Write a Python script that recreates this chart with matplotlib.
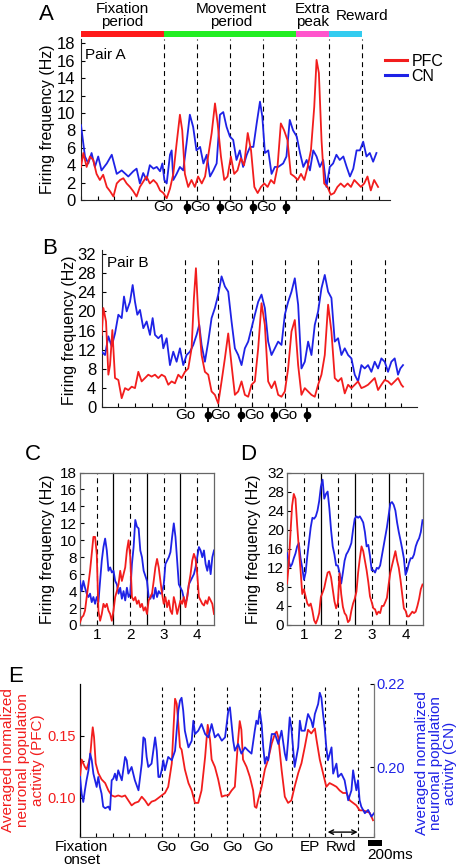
import numpy as np
import matplotlib
matplotlib.use("Agg")
import matplotlib.pyplot as plt
import matplotlib.transforms as mtransforms
from matplotlib.patches import Rectangle

plt.rcParams['font.family'] = ['Liberation Sans', 'DejaVu Sans']
plt.rcParams['font.size'] = 11

RED = '#f21d1d'
BLUE = '#1e22e6'
DASH = (0, (4.5, 3.5))

# ---------------- data ----------------
# time axis of A, B, E in units of one Go-to-Go interval
event_lines = [2.5, 3.5, 4.5, 5.5, 6.5, 7.5, 8.5]
go_first = 2.5
go_next = [3.5, 4.5, 5.5]
pins = [3.5, 4.5, 5.5, 6.5]

period_names = ['Fixation\nperiod', 'Movement\nperiod', 'Extra\npeak', 'Reward']
period_centers = [1.24, 4.53, 7.0, 8.49]
period_edges = [0, 2.5, 6.5, 7.5, 8.5]
period_colors = ['#ff1a1a', '#22ee22', '#ff55cc', '#33ccf0']

# Panel A (Pair A)
a_red_t = [0.00, 0.07, 0.17, 0.27, 0.37, 0.47, 0.57, 0.67, 0.78, 0.88,
           0.98, 1.08, 1.18, 1.28, 1.38, 1.48, 1.58, 1.68, 1.78, 1.88,
           1.98, 2.08, 2.19, 2.29, 2.39, 2.49, 2.59, 2.69, 2.79, 2.89,
           2.99, 3.06, 3.14, 3.24, 3.34, 3.44, 3.54, 3.65, 3.75, 3.85,
           3.95, 4.05, 4.13, 4.23, 4.33, 4.43, 4.53, 4.63, 4.73, 4.83,
           4.93, 5.04, 5.14, 5.24, 5.34, 5.44, 5.54, 5.64, 5.74, 5.84,
           5.94, 6.04, 6.14, 6.24, 6.34, 6.45, 6.55, 6.65, 6.75, 6.85,
           6.95, 7.05, 7.12, 7.19, 7.27, 7.35, 7.45, 7.55, 7.65, 7.75,
           7.85, 7.96, 8.06, 8.16, 8.26, 8.36, 8.46, 8.56, 8.66, 8.76,
           8.86, 8.98]
a_red = [3.8, 5.4, 3.8, 5.0, 4.6, 3.0, 2.3, 2.9, 1.5, 1.0,
         0.4, 1.9, 2.3, 2.5, 1.9, 1.5, 1.0, 0.4, 1.5, 2.1,
         2.7, 1.9, 2.3, 1.9, 1.1, 0.8, 0.2, 1.3, 3.0, 6.5,
         9.8, 8.0, 3.0, 1.5, 2.3, 1.5, 2.7, 1.9, 2.7, 5.2,
         7.7, 11.1, 8.8, 5.0, 2.3, 2.7, 5.0, 3.0, 3.4, 4.8,
         4.0, 7.7, 5.7, 1.5, 0.8, 1.5, 1.9, 1.5, 2.3, 1.9,
         3.8, 8.8, 8.0, 6.9, 3.0, 2.7, 2.3, 3.0, 2.3, 3.8,
         5.7, 10.7, 16.1, 14.6, 6.9, 1.9, 1.5, 0.6, 0.8, 1.5,
         1.9, 1.5, 1.9, 1.5, 2.3, 1.9, 1.5, 1.9, 2.7, 1.1,
         2.3, 1.5]
a_blue_t = [0.00, 0.12, 0.22, 0.32, 0.42, 0.52, 0.62, 0.78, 0.93, 1.08,
            1.23, 1.43, 1.58, 1.68, 1.78, 1.88, 1.98, 2.08, 2.19, 2.29,
            2.39, 2.46, 2.52, 2.59, 2.69, 2.74, 2.79, 2.89, 2.99, 3.09,
            3.19, 3.29, 3.39, 3.49, 3.60, 3.70, 3.80, 3.90, 4.00, 4.10,
            4.20, 4.30, 4.40, 4.50, 4.60, 4.70, 4.80, 4.90, 5.01, 5.11,
            5.21, 5.31, 5.41, 5.48, 5.56, 5.66, 5.76, 5.86, 5.96, 6.11,
            6.21, 6.31, 6.41, 6.52, 6.62, 6.72, 6.82, 6.92, 7.02, 7.12,
            7.22, 7.32, 7.42, 7.52, 7.62, 7.72, 7.82, 7.93, 8.03, 8.13,
            8.23, 8.33, 8.43, 8.53, 8.63, 8.73, 8.83, 8.93]
a_blue = [8.6, 5.0, 4.2, 5.4, 3.8, 5.0, 3.4, 4.2, 5.2, 3.0,
          3.4, 2.7, 3.3, 3.6, 1.9, 3.1, 2.3, 4.0, 3.6, 3.8,
          3.3, 4.2, 2.3, 1.9, 5.2, 5.7, 2.3, 3.0, 3.8, 3.4,
          6.5, 9.8, 8.4, 5.7, 6.1, 4.2, 5.2, 2.7, 3.4, 4.2,
          9.8, 10.1, 8.4, 7.3, 6.9, 4.6, 5.7, 3.8, 5.2, 6.1,
          6.1, 8.8, 11.3, 9.6, 5.4, 5.7, 3.0, 3.8, 3.8, 4.2,
          5.0, 9.2, 8.0, 7.3, 5.4, 3.8, 4.6, 3.4, 5.7, 5.0,
          3.8, 4.6, 1.5, 3.8, 4.2, 5.2, 4.6, 5.0, 3.8, 2.7,
          3.6, 5.7, 5.7, 6.7, 5.0, 5.4, 4.4, 5.4]

# Panel B (Pair B)
b_red_t = [0, 0.05, 0.13, 0.2, 0.25, 0.32, 0.4, 0.5, 0.6, 0.7,
           0.8, 0.9, 1.0, 1.1, 1.2, 1.3, 1.4, 1.5, 1.6, 1.7,
           1.8, 1.9, 2.0, 2.1, 2.2, 2.3, 2.4, 2.5, 2.6, 2.7,
           2.77, 2.83, 2.9, 3.0, 3.1, 3.2, 3.3, 3.4, 3.5, 3.6,
           3.7, 3.8, 3.9, 4.0, 4.1, 4.2, 4.3, 4.4, 4.5, 4.6,
           4.7, 4.8, 4.9, 5.0, 5.1, 5.2, 5.3, 5.4, 5.5, 5.6,
           5.7, 5.8, 5.9, 6.0, 6.1, 6.2, 6.3, 6.4, 6.5, 6.6,
           6.7, 6.8, 6.9, 7.0, 7.1, 7.2, 7.3, 7.4, 7.5, 7.6,
           7.7, 7.8, 7.9, 8.0, 8.1, 8.2, 8.3, 8.4, 8.5, 8.6,
           8.7, 8.8, 8.9, 9.0, 9.05]
b_red = [15.1, 20.7, 17.9, 6.8, 8.8, 16.1, 6.1, 5.7, 1.9, 4.0,
         3.6, 4.3, 4.0, 7.4, 5.4, 6.1, 6.8, 6.4, 6.8, 6.1,
         6.8, 6.4, 4.7, 5.4, 5.0, 6.8, 6.1, 7.4, 8.1, 12.3,
         22.8, 29.0, 19.3, 10.9, 7.4, 6.8, 3.3, 2.6, 0.8, 5.4,
         10.2, 15.4, 8.8, 2.6, 3.3, 5.4, 2.6, 2.2, 4.7, 5.4,
         12.3, 21.7, 17.2, 5.4, 4.0, 5.4, 2.6, 2.2, 3.3, 8.1,
         15.8, 18.2, 8.8, 2.6, 4.0, 3.3, 2.6, 2.2, 4.7, 6.8,
         10.9, 21.4, 15.8, 6.1, 5.4, 6.1, 2.9, 4.7, 4.0, 4.7,
         5.4, 4.0, 4.3, 4.7, 5.4, 6.1, 3.6, 4.7, 5.7, 5.4,
         4.7, 5.4, 6.1, 4.7, 4.3]
b_blue_t = [0, 0.1, 0.2, 0.3, 0.4, 0.5, 0.6, 0.67, 0.75, 0.85,
            0.93, 1.0, 1.07, 1.15, 1.25, 1.35, 1.45, 1.53, 1.6, 1.7,
            1.8, 1.85, 1.95, 2.05, 2.15, 2.25, 2.35, 2.45, 2.55, 2.65,
            2.75, 2.85, 2.93, 3.0, 3.1, 3.2, 3.3, 3.4, 3.5, 3.6,
            3.7, 3.8, 3.9, 4.0, 4.1, 4.2, 4.3, 4.4, 4.5, 4.6,
            4.7, 4.8, 4.9, 5.0, 5.1, 5.2, 5.3, 5.4, 5.5, 5.6,
            5.7, 5.8, 5.9, 6.0, 6.1, 6.2, 6.3, 6.4, 6.5, 6.6,
            6.7, 6.8, 6.9, 7.0, 7.1, 7.2, 7.3, 7.4, 7.5, 7.6,
            7.7, 7.8, 7.9, 8.0, 8.1, 8.2, 8.3, 8.4, 8.5, 8.6,
            8.7, 8.8, 8.9, 8.97, 9.05]
b_blue = [11.6, 10.9, 14.8, 12.7, 15.4, 19.3, 18.6, 23.1, 20.0, 22.0,
          25.5, 22.0, 19.3, 20.3, 16.5, 17.9, 15.1, 18.6, 15.1, 14.4,
          15.1, 12.3, 14.4, 8.8, 11.6, 9.5, 12.3, 8.8, 10.9, 11.6,
          13.0, 15.1, 17.2, 13.0, 9.5, 13.7, 18.6, 20.7, 23.5, 27.3,
          25.2, 24.1, 17.9, 12.3, 10.9, 8.8, 12.3, 13.7, 16.5, 19.3,
          22.0, 23.5, 20.7, 13.7, 10.9, 12.3, 13.7, 13.0, 19.3, 22.0,
          24.1, 26.9, 21.4, 8.1, 9.5, 13.7, 10.9, 17.2, 20.0, 24.8,
          27.6, 24.1, 22.8, 13.7, 14.4, 10.9, 12.3, 10.9, 10.2, 6.8,
          5.4, 8.8, 8.1, 8.8, 7.4, 9.5, 8.1, 10.2, 9.5, 7.4,
          9.5, 10.2, 6.8, 8.1, 8.8]

# Panels C and D: four trials, 0.05 steps from 0.5 to 4.5
trial_t = np.round(np.arange(0.5, 4.5001, 0.05), 2)
c_red = [0.3, 0.9, 1.1, 1.7, 3.3, 4.8, 6.4, 8.4, 10.4, 10.4,
         8.4, 1.7, 0.5, 1.3, 2.5, 2.1, 2.5, 1.7, 1.3, 0.5,
         1.7, 3.3, 4.0, 4.8, 6.4, 5.2, 6.0, 6.8, 8.8, 10.0,
         8.0, 3.3, 2.9, 3.3, 2.5, 2.9, 2.1, 2.5, 1.7, 2.1,
         1.3, 2.9, 3.3, 3.7, 5.2, 6.8, 7.8, 6.8, 5.2, 3.7,
         2.5, 3.3, 2.1, 2.9, 1.7, 1.3, 3.3, 2.5, 1.3, 2.1,
         2.9, 2.5, 3.3, 2.1, 3.3, 4.8, 6.0, 7.6, 8.4, 7.8,
         6.0, 3.3, 2.9, 2.5, 2.3, 2.9, 2.5, 3.3, 2.9, 2.5,
         1.3]
c_blue = [5.2, 4.0, 5.2, 4.4, 3.7, 3.3, 3.7, 2.7, 3.3, 2.5,
          3.3, 2.7, 5.2, 7.6, 9.2, 10.2, 8.8, 6.4, 6.8, 6.2,
          6.4, 5.2, 4.8, 3.7, 4.4, 3.1, 4.0, 2.9, 4.4, 3.3,
          3.7, 7.2, 9.2, 12.4, 11.6, 11.4, 8.8, 8.0, 6.4, 5.8,
          5.2, 3.3, 3.1, 3.7, 3.1, 4.4, 3.3, 4.0, 3.7, 3.8,
          4.8, 7.2, 7.6, 8.0, 8.6, 10.4, 12.0, 10.4, 7.6, 4.8,
          4.4, 4.0, 3.1, 2.5, 3.3, 4.8, 5.2, 5.6, 6.0, 6.8,
          8.0, 9.2, 8.8, 8.0, 8.8, 7.2, 6.4, 7.6, 6.0, 8.0,
          8.8]
d_red = [8.7, 12.5, 19.0, 25.0, 27.5, 26.5, 21.0, 16.0, 11.5, 6.5,
         7.5, 6.0, 4.5, 4.0, 4.5, 3.0, 1.0, 0.3, 1.2, 2.5,
         5.9, 6.8, 7.8, 9.5, 11.0, 11.2, 10.0, 7.5, 5.0, 3.5,
         4.5, 10.8, 6.5, 3.8, 2.5, 2.0, 0.6, 1.0, 3.0, 4.5,
         5.5, 7.0, 11.0, 14.0, 16.5, 15.5, 13.5, 11.5, 9.0, 6.0,
         4.8, 3.5, 3.3, 2.2, 2.8, 2.5, 4.0, 4.0, 4.8, 5.7,
         8.5, 11.0, 12.5, 14.0, 15.5, 13.5, 12.0, 9.5, 6.5, 3.5,
         3.0, 1.8, 1.8, 2.3, 2.8, 2.5, 2.8, 4.0, 5.5, 7.5,
         8.5]
d_blue = [15.1, 13.5, 12.2, 12.8, 14.0, 15.0, 16.5, 17.2, 14.0, 12.0,
          9.5, 11.0, 14.5, 17.5, 20.5, 22.5, 22.3, 22.8, 24.0, 26.0,
          29.0, 30.5, 26.5, 27.5, 28.0, 24.5, 20.0, 16.5, 14.8, 12.5,
          12.5, 11.0, 8.7, 11.0, 13.5, 14.8, 15.4, 16.2, 17.2, 20.0,
          22.3, 22.8, 22.5, 22.8, 22.2, 21.5, 19.5, 16.5, 16.8, 14.5,
          11.5, 11.5, 11.0, 12.0, 11.8, 12.5, 14.5, 16.5, 18.5, 20.5,
          23.0, 25.5, 25.8, 25.2, 24.0, 21.5, 19.5, 17.8, 16.0, 14.0,
          10.5, 11.5, 13.0, 14.0, 14.0, 14.8, 16.5, 17.5, 18.2, 19.5,
          22.0]

# Panel E: population activity
e_red_t = [0, 0.05, 0.10, 0.15, 0.20, 0.26, 0.31, 0.36, 0.39, 0.43,
           0.48, 0.56, 0.66, 0.77, 0.87, 0.97, 1.07, 1.17, 1.28, 1.38,
           1.48, 1.58, 1.68, 1.79, 1.89, 1.99, 2.09, 2.19, 2.30, 2.40,
           2.50, 2.60, 2.70, 2.81, 2.86, 2.91, 2.96, 3.01, 3.06, 3.11,
           3.21, 3.32, 3.42, 3.52, 3.62, 3.72, 3.83, 3.91, 3.98, 4.03,
           4.13, 4.23, 4.34, 4.44, 4.54, 4.64, 4.74,
           4.84, 4.89, 4.94, 4.99, 5.10, 5.20, 5.30, 5.35, 5.40, 5.45,
           5.56, 5.66, 5.76, 5.87, 5.97, 6.02, 6.07, 6.17, 6.27, 6.37,
           6.47, 6.57, 6.68, 6.78, 6.88, 6.98, 7.08, 7.19, 7.24, 7.34,
           7.44, 7.54, 7.64, 7.75, 7.85, 7.95, 8.05, 8.16, 8.26, 8.36,
           8.46, 8.56, 8.67, 8.77, 8.87, 8.97]
e_red = [0.117, 0.131, 0.128, 0.125, 0.123, 0.128, 0.133, 0.149, 0.157, 0.149,
         0.128, 0.120, 0.115, 0.112, 0.106, 0.102, 0.101, 0.102, 0.101, 0.102,
         0.098, 0.094, 0.096, 0.097, 0.101, 0.098, 0.094, 0.097, 0.098, 0.100,
         0.102, 0.104, 0.109, 0.128, 0.155, 0.180, 0.176, 0.160, 0.141, 0.139,
         0.123, 0.112, 0.106, 0.096, 0.096, 0.106, 0.133, 0.159, 0.147, 0.131,
         0.125, 0.115, 0.101, 0.102, 0.102, 0.106, 0.109,
         0.147, 0.162, 0.155, 0.131, 0.125, 0.117, 0.106, 0.093, 0.092, 0.098,
         0.109, 0.123, 0.131, 0.144, 0.152, 0.1535, 0.149, 0.123, 0.101, 0.096,
         0.098, 0.109, 0.120, 0.128, 0.141, 0.155, 0.152, 0.156, 0.147, 0.131,
         0.120, 0.109, 0.112, 0.1105, 0.109, 0.106, 0.104, 0.104, 0.098, 0.096,
         0.094, 0.090, 0.090, 0.089, 0.088, 0.082]
e_blue_t = [0, 0.05, 0.10, 0.15, 0.20, 0.26, 0.31, 0.36, 0.41, 0.46,
            0.51, 0.56, 0.61, 0.66, 0.71, 0.77, 0.87, 0.92, 0.97, 1.02,
            1.07, 1.12, 1.17, 1.28, 1.38, 1.43, 1.48, 1.58, 1.68, 1.79,
            1.84, 1.89, 1.94, 1.99, 2.04, 2.09, 2.19, 2.30, 2.35, 2.40,
            2.45, 2.50, 2.55, 2.60, 2.70, 2.81, 2.91, 3.01, 3.06, 3.11,
            3.16, 3.21, 3.32, 3.42, 3.47, 3.52, 3.62, 3.72, 3.83, 3.93,
            4.03, 4.13, 4.23, 4.34, 4.44,
            4.54, 4.59, 4.64, 4.69, 4.74, 4.84, 4.94, 5.05, 5.15, 5.25,
            5.35, 5.40, 5.45, 5.50, 5.56, 5.61, 5.66, 5.71, 5.76, 5.87,
            5.97, 6.07, 6.17, 6.27, 6.32, 6.37, 6.42, 6.47, 6.57, 6.68,
            6.73, 6.78, 6.88, 6.98, 7.08, 7.13, 7.19, 7.29, 7.34, 7.39,
            7.44, 7.49, 7.54, 7.59, 7.70, 7.75, 7.85, 7.90, 8.00, 8.10,
            8.21, 8.31, 8.36, 8.46, 8.51, 8.56, 8.61, 8.72, 8.82, 8.92,
            9.0]
e_blue = [0.1977, 0.1937, 0.1917, 0.1945, 0.1969, 0.1993, 0.2033, 0.2017, 0.1985, 0.1969,
          0.1953, 0.1977, 0.1953, 0.1937, 0.1906, 0.1902, 0.1906, 0.1898, 0.1969, 0.1973,
          0.1985, 0.1969, 0.1993, 0.1969, 0.2025, 0.2017, 0.1985, 0.2001, 0.1969, 0.1945,
          0.1977, 0.2009, 0.2072, 0.2068, 0.2025, 0.2001, 0.2009, 0.2072, 0.2040, 0.1977,
          0.1977, 0.1993, 0.2017, 0.1993, 0.2025, 0.2017, 0.2040, 0.2136, 0.2160, 0.2167,
          0.2136, 0.2088, 0.2048, 0.2064, 0.2112, 0.2080, 0.2088, 0.2104, 0.2080, 0.2072,
          0.2104, 0.2072, 0.2080, 0.2064, 0.2072,
          0.2136, 0.2144, 0.2104, 0.2064, 0.2040, 0.2056, 0.2033, 0.2048, 0.2040, 0.2033,
          0.2088, 0.2112, 0.2104, 0.2136, 0.2104, 0.2048, 0.2009, 0.2025, 0.2017, 0.2080,
          0.2080, 0.2056, 0.2088, 0.2033, 0.2017, 0.2064, 0.2120, 0.2096, 0.2001, 0.2048,
          0.2112, 0.2088, 0.2088, 0.2128, 0.2112, 0.2096, 0.2128, 0.2152, 0.2179, 0.2167,
          0.2128, 0.2096, 0.2048, 0.2017, 0.2048, 0.1985, 0.2009, 0.1977, 0.1985, 0.1969,
          0.1921, 0.1945, 0.1993, 0.1945, 0.1969, 0.1921, 0.1906, 0.1890, 0.1898, 0.1882,
          0.1890]
e_events = ['Go', 'Go', 'Go', 'Go', 'EP', 'Rwd']
e_event_x = [2.65, 3.65, 4.65, 5.62, 7.03, 8.0]

# ---------------- figure ----------------
W, H = 463, 868
fig = plt.figure(figsize=(W / 100, H / 100), dpi=100)


def px_axes(left, top, right, bottom):
    return fig.add_axes([left / W, 1 - bottom / H, (right - left) / W, (bottom - top) / H])


def trace_panel(ax, xmax, ymax, yticks):
    for s in ['top', 'right']:
        ax.spines[s].set_visible(False)
    for s in ['left', 'bottom']:
        ax.spines[s].set_linewidth(0.8)
        ax.spines[s].set_color('#222222')
    ax.set_xlim(0, xmax)
    ax.set_ylim(0, ymax)
    ax.set_yticks(yticks)
    ax.set_xticks(np.arange(0, 9.01, 0.5))
    ax.set_xticklabels([])
    ax.tick_params(direction='in', length=3, width=0.8, labelsize=12, pad=4)
    ax.set_ylabel('Firing frequency (Hz)', fontsize=11.5)


def go_marks(ax, y, go_off=0.1, pin_off=-0.3):
    tr = mtransforms.blended_transform_factory(ax.transData, ax.transAxes)
    ax.text(go_first, y, 'Go', transform=tr, ha='center', va='center', fontsize=11)
    for g in go_next:
        ax.text(g + go_off, y, 'Go', transform=tr, ha='center', va='center', fontsize=11)
    for p in pins:
        ax.plot([p + pin_off], [y], marker='|', ms=10, mew=1.3, color='k',
                transform=tr, clip_on=False)
        ax.plot([p + pin_off], [y], marker='o', ms=4.5, color='k',
                transform=tr, clip_on=False)


# ----- A -----
axA = px_axes(81, 39, 390, 200)
axA.plot(a_blue_t, a_blue, color=BLUE, lw=1.3, label='CN', zorder=3)
axA.plot(a_red_t, a_red, color=RED, lw=1.3, label='PFC', zorder=3)
for x in event_lines:
    axA.axvline(x, color='k', lw=0.8, ls=DASH, zorder=1)
trace_panel(axA, 9.34, 18.5, np.arange(0, 19, 2))
axA.yaxis.set_label_coords(-0.084, 0.5)
axA.text(0.013, 0.9, 'Pair A', transform=axA.transAxes, ha='left', va='center', fontsize=11)
trA = mtransforms.blended_transform_factory(axA.transData, axA.transAxes)
for x0, x1, c in zip(period_edges[:-1], period_edges[1:], period_colors):
    axA.add_patch(Rectangle((x0, 1.012), x1 - x0, 0.038, transform=trA,
                            facecolor=c, lw=0, clip_on=False))
for name, xc in zip(period_names, period_centers):
    axA.text(xc, 1.145, name, transform=trA, ha='center', va='center',
             fontsize=11, linespacing=0.95)
handles, labels = axA.get_legend_handles_labels()
leg = axA.legend(handles[::-1], labels[::-1], loc='upper left',
                 bbox_to_anchor=((385 - 81) / 309, (200 - 54) / 161),
                 frameon=False, handlelength=1.4, handletextpad=0.25,
                 labelspacing=0.0, borderpad=0, borderaxespad=0, fontsize=11.5)
for ln in leg.get_lines():
    ln.set_linewidth(2.2)
go_marks(axA, -0.045)

# ----- B -----
axB = px_axes(101.7, 250, 417, 407.3)
axB.plot(b_blue_t, b_blue, color=BLUE, lw=1.3, zorder=3)
axB.plot(b_red_t, b_red, color=RED, lw=1.3, zorder=3)
for x in event_lines:
    axB.axvline(x, ymax=0.957, color='k', lw=0.8, ls=DASH, zorder=1)
trace_panel(axB, 9.47, 32.8, np.arange(0, 33, 4))
axB.yaxis.set_label_coords(-0.078, 0.49)
axB.text(0.017, 0.92, 'Pair B', transform=axB.transAxes, ha='left', va='center', fontsize=11)
go_marks(axB, -0.05, go_off=0.07, pin_off=-0.32)


# ----- C and D -----
def trial_panel(ax, red, blue, ymax, yticks):
    ax.plot(trial_t, blue, color=BLUE, lw=1.3, zorder=3)
    ax.plot(trial_t, red, color=RED, lw=1.3, zorder=3)
    for x in [1.5, 2.5, 3.5]:
        ax.axvline(x, color='k', lw=0.9, zorder=1)
    for x in [1, 2, 3, 4]:
        ax.axvline(x, color='k', lw=0.8, ls=DASH, zorder=1)
    for s in ax.spines.values():
        s.set_color('#666666')
        s.set_linewidth(0.9)
    ax.set_xlim(0.5, 4.5)
    ax.set_ylim(0, ymax)
    ax.set_xticks([1, 2, 3, 4])
    ax.set_yticks(yticks)
    ax.tick_params(direction='in', length=3, width=0.8, labelsize=11, pad=2)
    ax.set_ylabel('Firing frequency (Hz)', fontsize=11.5)


axC = px_axes(80, 472.5, 214, 625)
trial_panel(axC, c_red, c_blue, 18, np.arange(0, 19, 2))
axC.yaxis.set_label_coords(-0.187, 0.5)

axD = px_axes(287, 472.5, 422.5, 625)
trial_panel(axD, d_red, d_blue, 32, np.arange(0, 33, 4))
axD.yaxis.set_label_coords(-0.195, 0.5)

# ----- E -----
axE = px_axes(80, 684, 374, 837)
axE2 = axE.twinx()
axE.plot(e_red_t, e_red, color=RED, lw=1.3, zorder=3)
axE2.plot(e_blue_t, e_blue, color=BLUE, lw=1.3, zorder=3)
for x in event_lines:
    axE.axvline(x, color='k', lw=0.8, ls=(0, (3, 3)), zorder=1)
axE.set_xlim(0, 9.0)
axE.set_ylim(0.0685, 0.1919)
axE2.set_ylim(0.1833, 0.2198)
axE.spines['top'].set_visible(False)
axE.spines['right'].set_visible(False)
axE.spines['left'].set_linewidth(0.9)
axE.spines['bottom'].set_color('#555555')
for s in ['top', 'left', 'bottom']:
    axE2.spines[s].set_visible(False)
axE2.spines['right'].set_color('#777777')
axE2.spines['right'].set_linewidth(0.9)
axE.set_xticks(np.arange(0, 9.01, 0.5))
axE.set_xticklabels([])
axE.set_yticks([0.10, 0.13, 0.15])
axE.set_yticklabels(['0.10', '', '0.15'])
axE2.set_yticks([0.20, 0.22])
axE2.set_yticklabels(['0.20', '0.22'])
axE.tick_params(axis='x', direction='in', length=3, width=0.8)
axE.tick_params(axis='y', direction='in', length=3, width=0.8, labelsize=10.5,
                labelcolor=RED, pad=3)
axE2.tick_params(axis='y', direction='in', length=3, width=0.8, labelsize=10.5,
                 labelcolor=BLUE, pad=2)
trE = mtransforms.blended_transform_factory(axE.transData, axE.transAxes)
axE.text(0.05, -0.11, 'Fixation\nonset', transform=trE, ha='center', va='center',
         fontsize=11, linespacing=0.9)
for name, x in zip(e_events, e_event_x):
    axE.text(x, -0.065, name, transform=trE, ha='center', va='center', fontsize=11)
axE.annotate('', xy=(8.5, 0.032), xytext=(7.58, 0.032), xycoords=trE, textcoords=trE,
             arrowprops=dict(arrowstyle='<->', lw=1, color='k', shrinkA=0, shrinkB=0,
                             mutation_scale=8))
axE.add_patch(Rectangle((8.81, -0.058), 0.43, 0.037, transform=trE,
                        facecolor='k', lw=0, clip_on=False))
axE.text(9.48, -0.117, '200ms', transform=trE, ha='center', va='center', fontsize=11)

fig.text(23 / W, 1 - 760 / H, 'Averaged normalized\nneuronal population\nactivity (PFC)',
         rotation=90, color=RED, ha='center', va='center', fontsize=11, linespacing=1.05)
fig.text(436 / W, 1 - 763 / H, 'Averaged normalized\nneuronal population\nactivity (CN)',
         rotation=90, color=BLUE, ha='center', va='center', fontsize=11, linespacing=1.0)

# panel letters
for letter, x, y in [('A', 46, 15), ('B', 50, 248), ('C', 33, 455), ('D', 248, 455), ('E', 16, 677)]:
    fig.text(x / W, 1 - y / H, letter, fontsize=16, ha='center', va='center')

fig.savefig('out.png', dpi=100)
